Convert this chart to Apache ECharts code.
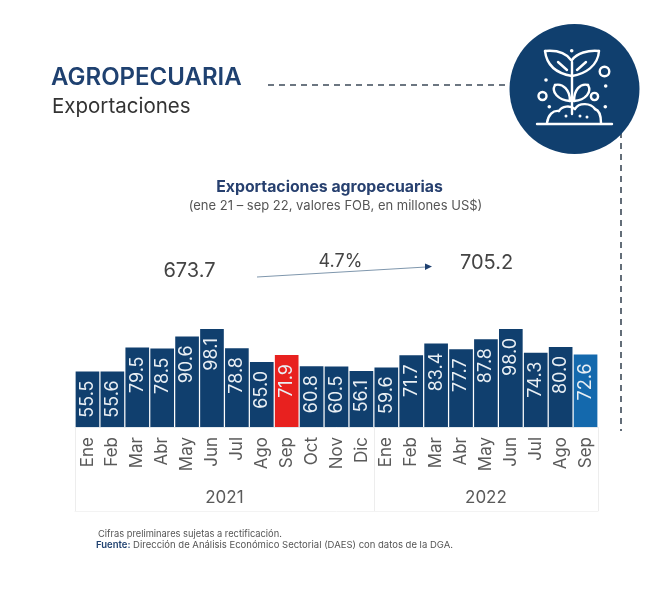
<!DOCTYPE html>
<html><head><meta charset="utf-8">
<style>html,body{margin:0;padding:0;background:#fff}#c{width:665px;height:593px}</style>
<script src="https://cdn.jsdelivr.net/npm/echarts@6/dist/echarts.min.js"></script>
</head><body><div id="c"></div>
<script>
const categories = ['Ene','Feb','Mar','Abr','May','Jun','Jul','Ago','Sep','Oct','Nov','Dic','Ene','Feb','Mar','Abr','May','Jun','Jul','Ago','Sep'];
const values = [55.5,55.6,79.5,78.5,90.6,98.1,78.8,65.0,71.9,60.8,60.5,56.1,59.6,71.7,83.4,77.7,87.8,98.0,74.3,80.0,72.6];
const years = ['2021','2022'];
const monthsPerYear = [12,9];
const total2021 = '673.7', total2022 = '705.2', growth = '4.7%';
const NAVY = '#103f6e', RED = '#e8211f', BLUE = '#1469ad';
const barColors = {8: RED, 20: BLUE};
const FONT = 'Inter';
const yearEdges = [0, monthsPerYear[0], monthsPerYear[0] + monthsPerYear[1]];
const yearCenters = [yearEdges[1] / 2, (yearEdges[1] + yearEdges[2]) / 2];

const txt = (x, y, text, size, fill, weight, align) => ({
  type: 'text', x, y,
  style: { text, fontFamily: FONT, fontSize: size, fill, fontWeight: weight || 400, textAlign: align || 'left', textVerticalAlign: 'middle' }
});
const W = { stroke: '#fff', fill: 'none', lineWidth: 2.4, lineCap: 'round', lineJoin: 'round' };
const seg = (x1, y1, x2, y2) => ({ type: 'line', shape: { x1, y1, x2, y2 }, style: W, z: 6 });
const cub = (x1, y1, cpx1, cpy1, cpx2, cpy2, x2, y2) => ({ type: 'bezierCurve', shape: { x1, y1, cpx1, cpy1, cpx2, cpy2, x2, y2 }, style: W, z: 6 });
const ring = (cx, cy, r) => ({ type: 'circle', shape: { cx, cy, r }, style: W, z: 6 });
const dot = (cx, cy, r) => ({ type: 'circle', shape: { cx, cy, r: r || 1.8 }, style: { fill: '#fff' }, z: 6 });
const dash = (x1, y1, x2, y2) => ({ type: 'line', shape: { x1, y1, x2, y2 }, style: { stroke: '#3d4a58', lineWidth: 1.6, lineDash: [6, 5] } });

const graphic = [
  txt(51, 78, 'AGROPECUARIA', 24, '#1f4170', 600),
  txt(52, 107, 'Exportaciones', 20.5, '#333', 400),
  txt(329.5, 187, 'Exportaciones agropecuarias', 15.8, '#27406f', 700, 'center'),
  txt(335.5, 206, '(ene 21 – sep 22, valores FOB, en millones US$)', 13, '#555', 400, 'center'),
  txt(189.5, 271, total2021, 20, '#444', 400, 'center'),
  txt(486.5, 263, total2022, 20, '#444', 400, 'center'),
  txt(340.5, 262, growth, 18, '#444', 400, 'center'),
  txt(98, 534, 'Cifras preliminares sujetas a rectificación.', 9.3, '#555'),
  { type: 'text', x: 96, y: 545, style: { text: '{b|Fuente:} Dirección de Análisis Económico Sectorial (DAES) con datos de la DGA.', fontFamily: FONT, fontSize: 9.5, fill: '#555', textVerticalAlign: 'middle',
      rich: { b: { fontFamily: FONT, fontSize: 9.5, fontWeight: 600, fill: '#1f4170' } } } },
  { type: 'line', shape: { x1: 257, y1: 277, x2: 426, y2: 267 }, style: { stroke: '#7f97ad', lineWidth: 1 } },
  { type: 'polygon', shape: { points: [[432, 266.5], [425, 263.5], [425, 270]] }, style: { fill: '#1f4170' } },
  dash(268, 85, 512, 85),
  dash(621, 132, 621, 431),
  { type: 'circle', shape: { cx: 574.5, cy: 89, r: 65 }, style: { fill: NAVY }, z: 5 },
  // plant icon
  seg(572, 62, 572, 114), seg(537, 124, 612, 124),
  cub(572, 76, 560, 74, 547, 68, 545, 51), cub(545, 51, 556, 50, 566, 53, 571, 60),
  cub(572, 76, 585, 74, 598, 66, 599, 51), cub(599, 51, 588, 50, 577, 53, 572, 60),
  seg(558, 62, 567, 70), seg(586, 62, 577, 70),
  cub(570, 101, 558, 100, 551, 92, 555, 85), cub(555, 85, 563, 83, 570, 90, 570, 101),
  cub(574, 101, 586, 100, 592, 92, 588, 85), cub(588, 85, 580, 83, 574, 90, 574, 101),
  cub(547, 123, 548, 115, 553, 110, 559, 111), cub(559, 111, 562, 106, 570, 105, 575, 109),
  cub(575, 109, 579, 102, 591, 103, 595, 109), cub(595, 109, 601, 111, 601, 119, 601, 123),
  ring(604.5, 71.5, 4.8), ring(542.5, 96, 4), ring(594.5, 96.5, 3.6),
  dot(571.7, 50.7), dot(546, 80), dot(605.7, 86), dot(549.3, 106.7), dot(605.3, 106.7),
  dot(566, 116, 1.5), dot(580, 116, 1.5), dot(587, 117, 1.5)
];

const chart = echarts.init(document.getElementById('c'), null, { renderer: 'canvas' });
chart.setOption({
  animation: false,
  backgroundColor: '#fff',
  textStyle: { fontFamily: FONT },
  graphic,
  grid: { left: 75, width: 523, top: 327, height: 100 },
  xAxis: [
    { type: 'category', data: categories, axisLine: { lineStyle: { color: '#e3e9ee' } }, axisTick: { show: false },
      axisLabel: { rotate: 90, interval: 0, margin: 10, fontFamily: FONT, fontSize: 17, color: '#5a5a5a' } },
    { type: 'value', position: 'bottom', offset: 84, min: yearEdges[0], max: yearEdges[2],
      axisLine: { show: true, lineStyle: { color: '#f3f3f3' } },
      splitLine: { show: false },
      axisTick: { show: true, inside: true, length: 84, customValues: yearEdges, lineStyle: { color: '#ededed' } },
      axisLabel: { inside: true, margin: 5, customValues: yearCenters, fontFamily: FONT, fontSize: 17, color: '#5a5a5a',
        formatter: v => years[yearCenters.indexOf(v)] } }
  ],
  yAxis: { type: 'value', min: 0, max: 100, show: false },
  series: [{
    type: 'bar', xAxisIndex: 0, barCategoryGap: '5%',
    data: values.map((v, i) => ({ value: v, itemStyle: { color: barColors[i] || NAVY } })),
    label: { show: true, position: 'insideTop', distance: 9, rotate: 90, align: 'right', verticalAlign: 'middle',
      fontFamily: FONT, fontSize: 18, color: '#e9eff4', formatter: p => p.value.toFixed(1) }
  }]
});
</script></body></html>
